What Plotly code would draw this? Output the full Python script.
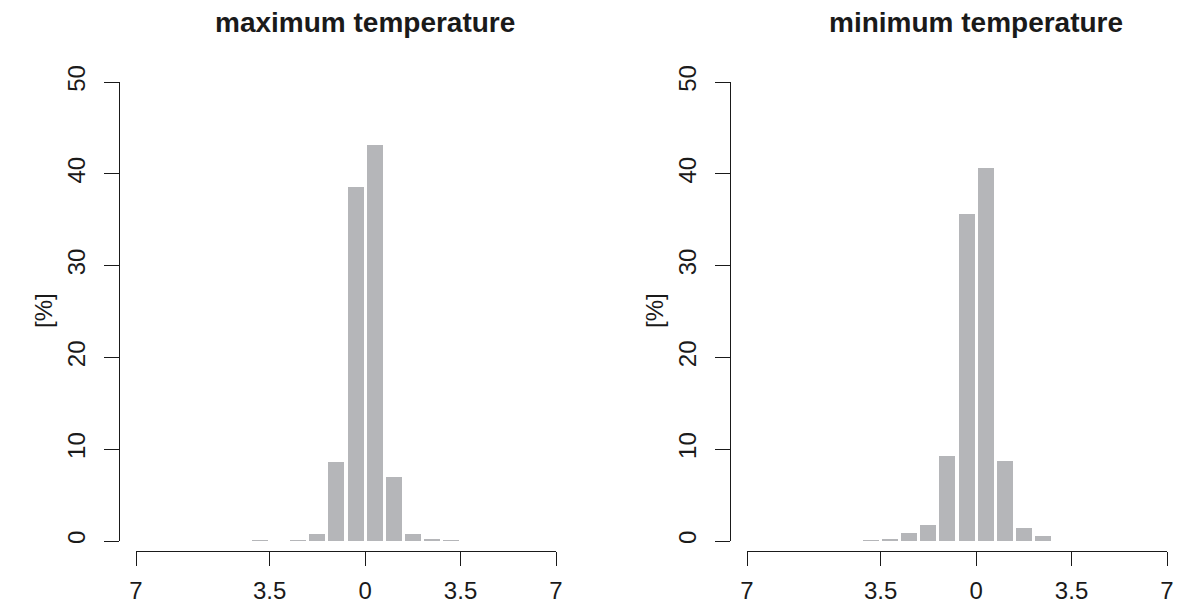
import plotly.graph_objects as go

# ---- data ----
bin_centers = [-3.85, -3.15, -2.45, -1.75, -1.05, -0.35, 0.35, 1.05, 1.75, 2.45, 3.15]
tmax_pct = [0.1, 0.0, 0.1, 0.75, 8.6, 38.6, 43.1, 7.0, 0.75, 0.2, 0.1]
tmin_pct = [0.1, 0.2, 0.85, 1.7, 9.3, 35.6, 40.6, 8.7, 1.4, 0.55, 0.0]
titles = ["maximum temperature", "minimum temperature"]
x_tickvals = [-8.4, -3.5, 0, 3.5, 7]
x_ticktext = ["7", "3.5", "0", "3.5", "7"]
y_tickvals = [0, 10, 20, 30, 40, 50]
y_label = "[%]"

W, H = 1180, 605
BAR_COLOR = "#b5b6b9"
INK = "#1a1a1a"
FONT = "Liberation Sans, Arial, Helvetica, sans-serif"

def px_x(p):
    return p / W

def px_y(p):
    return 1 - p / H

fig = go.Figure()

panels = [(tmax_pct, 0), (tmin_pct, 611)]
annotations = []
for i, (vals, off) in enumerate(panels):
    n = "" if i == 0 else str(i + 1)
    fig.add_trace(go.Bar(
        x=bin_centers, y=vals, width=0.585,
        marker=dict(color=BAR_COLOR, line=dict(width=0)),
        xaxis="x" + n, yaxis="y" + n, showlegend=False,
        hoverinfo="x+y",
    ))
    xa = dict(
        domain=[px_x(136 + off), px_x(556 + off)],
        range=[-8.4, 7],
        anchor="free", position=px_y(551),
        showline=True, linecolor=INK, linewidth=1.3,
        ticks="outside", ticklen=14, tickwidth=1.3, tickcolor=INK,
        tickvals=x_tickvals, ticktext=x_ticktext,
        tickfont=dict(family=FONT, size=24, color=INK),
        ticklabelstandoff=4,
        automargin=False,
        showgrid=False, zeroline=False, fixedrange=True,
    )
    ya = dict(
        domain=[px_y(541), px_y(82)],
        range=[0, 50],
        anchor="free", position=px_x(119 + off),
        showline=True, linecolor=INK, linewidth=1.3,
        ticks="outside", ticklen=15, tickwidth=1.3, tickcolor=INK,
        tickvals=y_tickvals,
        tickangle=-90,
        tickfont=dict(family=FONT, size=24, color=INK),
        ticklabelstandoff=9,
        automargin=False,
        showgrid=False, zeroline=False, fixedrange=True,
    )
    fig.update_layout(**{"xaxis" + n: xa, "yaxis" + n: ya})
    annotations.append(dict(
        text="<b>" + titles[i] + "</b>", xref="paper", yref="paper",
        x=px_x(365 + off), y=px_y(23), xanchor="center", yanchor="middle",
        showarrow=False, font=dict(family=FONT, size=28, color=INK),
    ))
    annotations.append(dict(
        text=y_label, xref="paper", yref="paper",
        x=px_x(43 + off), y=px_y(311), xanchor="center", yanchor="middle",
        textangle=-90, showarrow=False,
        font=dict(family=FONT, size=24, color=INK),
    ))

fig.update_layout(
    width=W, height=H,
    margin=dict(l=0, r=0, t=0, b=0, autoexpand=False),
    paper_bgcolor="white", plot_bgcolor="white",
    annotations=annotations,
    bargap=0,
)

fig.write_html(
    "out.html",
    config={"displayModeBar": False},
    post_script="document.body.style.margin='0';document.body.style.overflow='hidden';",
)
